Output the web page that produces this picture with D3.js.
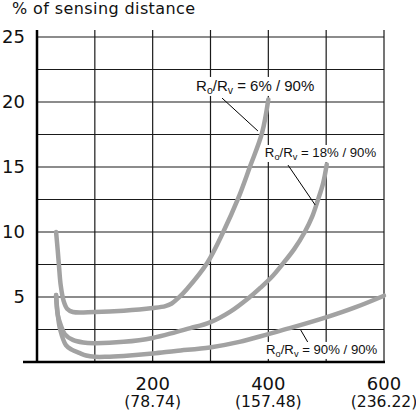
<!DOCTYPE html>
<html>
<head>
<meta charset="utf-8">
<script src="https://cdn.jsdelivr.net/npm/d3@7"></script>
<style>
  html, body { margin: 0; padding: 0; background: #fff; }
  svg { display: block; }
</style>
</head>
<body>
<svg id="chart" width="416" height="412"></svg>
<script>
// axis ticks
var xTicks = [200, 400, 600];
var xTicksInch = ["(78.74)", "(157.48)", "(236.22)"];
var yTicks = [5, 10, 15, 20, 25];
var gridX = [100, 200, 300, 400, 500, 600];
var gridY = [2.5, 5, 7.5, 10, 12.5, 15, 17.5, 20, 22.5, 25];

var curve6 = [[33,10],[36,8.5],[38,7.4],[41,5.9],[46,4.7],[52,4.1],[62,3.85],[100,3.85],[150,3.95],[200,4.15],[222,4.3],[233,4.5],[245,4.95],[259,5.6],[294,7.6],[322,10],[348,12.6],[368,15],[389,17.6],[400,20.2]];
var curve18 = [[33,5.15],[36,3.6],[41,2.85],[48,2.15],[62,1.7],[80,1.5],[98,1.45],[150,1.55],[200,1.85],[240,2.3],[265,2.6],[299,3.05],[335,3.9],[368,5.0],[386,5.7],[405,6.5],[424,7.5],[445,8.7],[463,10],[476,11.2],[486,12.5],[495,13.8],[501,15.2]];
var curve90 = [[33,5.15],[36,3.6],[40,2.5],[50,1.3],[60,0.95],[73,0.7],[85,0.5],[100,0.4],[120,0.4],[150,0.47],[200,0.65],[240,0.85],[299,1.12],[350,1.55],[400,2.15],[437,2.6],[501,3.45],[550,4.2],[600,5.1]];
var curves = [curve6, curve18, curve90];

// annotation labels : ratio text, anchor [x, y], leader [[x1,y1],[x2,y2]]
var labelRatio = ["6% / 90%", "18% / 90%", "90% / 90%"];
var labelAt = [[275, 20.85], [394, 15.77], [396, 0.62]];
var leaders = [[[320, 20.3], [382, 17.77]], [[434, 15.15], [481, 12.08]], [[456, 2.46], [468, 1.54]]];
var labelSize = [15, 13.2, 13.2];

var svg = d3.select("#chart");

var x = d3.scaleLinear().domain([0, 600]).range([37, 384]);
var y = d3.scaleLinear().domain([0, 25]).range([362, 37]);

var ink = "#1a1a1a";

// title
svg.append("text")
    .attr("x", 12)
    .attr("y", 14)
    .attr("font-family", "DejaVu Sans")
    .attr("font-size", 16)
    .attr("letter-spacing", 0.4)
    .attr("fill", "#111")
    .text("% of sensing distance");

// grid
svg.append("g")
    .selectAll("line")
    .data(gridY)
    .enter()
    .append("line")
    .attr("x1", x(0))
    .attr("x2", x(600))
    .attr("y1", function(d) { return y(d); })
    .attr("y2", function(d) { return y(d); })
    .attr("stroke", ink)
    .attr("stroke-width", 1.2);

svg.append("g")
    .selectAll("line")
    .data(gridX)
    .enter()
    .append("line")
    .attr("x1", function(d) { return x(d); })
    .attr("x2", function(d) { return x(d); })
    .attr("y1", y(25) - 7)
    .attr("y2", y(0))
    .attr("stroke", ink)
    .attr("stroke-width", 1.2);

// axes
svg.append("line")
    .attr("x1", x(0)).attr("x2", x(0))
    .attr("y1", y(25) - 7).attr("y2", y(0))
    .attr("stroke", "#000")
    .attr("stroke-width", 2.5);

svg.append("line")
    .attr("x1", 23).attr("x2", x(600) + 1)
    .attr("y1", y(0)).attr("y2", y(0))
    .attr("stroke", "#000")
    .attr("stroke-width", 2.5);

// tick labels
svg.append("g")
    .selectAll("text")
    .data(yTicks)
    .enter()
    .append("text")
    .attr("x", 25)
    .attr("y", function(d) { return y(d); })
    .attr("dy", "0.33em")
    .attr("text-anchor", "end")
    .attr("font-family", "DejaVu Sans")
    .attr("font-size", 18)
    .attr("fill", "#111")
    .text(function(d) { return d; });

var xl = svg.append("g")
    .selectAll("g")
    .data(xTicks)
    .enter()
    .append("g");

xl.append("text")
    .attr("x", function(d) { return x(d); })
    .attr("y", 390)
    .attr("text-anchor", "middle")
    .attr("font-family", "DejaVu Sans")
    .attr("font-size", 18)
    .attr("fill", "#111")
    .text(function(d) { return d; });

xl.append("text")
    .attr("x", function(d) { return x(d); })
    .attr("y", 407)
    .attr("text-anchor", "middle")
    .attr("font-family", "DejaVu Sans")
    .attr("font-size", 15.6)
    .attr("fill", "#111")
    .text(function(d, i) { return xTicksInch[i]; });

// labels (white box behind)
var labels = svg.append("g")
    .selectAll("g")
    .data(labelRatio)
    .enter()
    .append("g");

var txt = labels.append("text")
    .attr("x", function(d, i) { return x(labelAt[i][0]); })
    .attr("y", function(d, i) { return y(labelAt[i][1]); })
    .attr("font-family", "Liberation Sans")
    .attr("font-size", function(d, i) { return labelSize[i]; })
    .attr("fill", "#111");

txt.append("tspan").text("R");
txt.append("tspan").attr("font-size", "70%").attr("dy", 3).text("o");
txt.append("tspan").attr("dy", -3).text("/R");
txt.append("tspan").attr("font-size", "70%").attr("dy", 3).text("v");
txt.append("tspan").attr("dy", -3).text(function(d) { return " = " + d; });

labels.each(function() {
    var g = d3.select(this);
    var bb = g.select("text").node().getBBox();
    g.insert("rect", "text")
        .attr("x", bb.x - 1)
        .attr("y", bb.y)
        .attr("width", bb.width + 2)
        .attr("height", bb.height)
        .attr("fill", "#fff");
});

// curves
var line = d3.line()
    .x(function(d) { return x(d[0]); })
    .y(function(d) { return y(d[1]); })
    .curve(d3.curveCatmullRom.alpha(0.5));

svg.append("g")
    .selectAll("path")
    .data(curves)
    .enter()
    .append("path")
    .attr("d", line)
    .attr("fill", "none")
    .attr("stroke", "#a2a2a2")
    .attr("stroke-width", 4.5)
    .attr("stroke-linecap", "round")
    .attr("stroke-linejoin", "round");

// leader lines
svg.append("g")
    .selectAll("line")
    .data(leaders)
    .enter()
    .append("line")
    .attr("x1", function(d) { return x(d[0][0]); })
    .attr("y1", function(d) { return y(d[0][1]); })
    .attr("x2", function(d) { return x(d[1][0]); })
    .attr("y2", function(d) { return y(d[1][1]); })
    .attr("stroke", "#000")
    .attr("stroke-width", 1);
</script>
</body>
</html>
